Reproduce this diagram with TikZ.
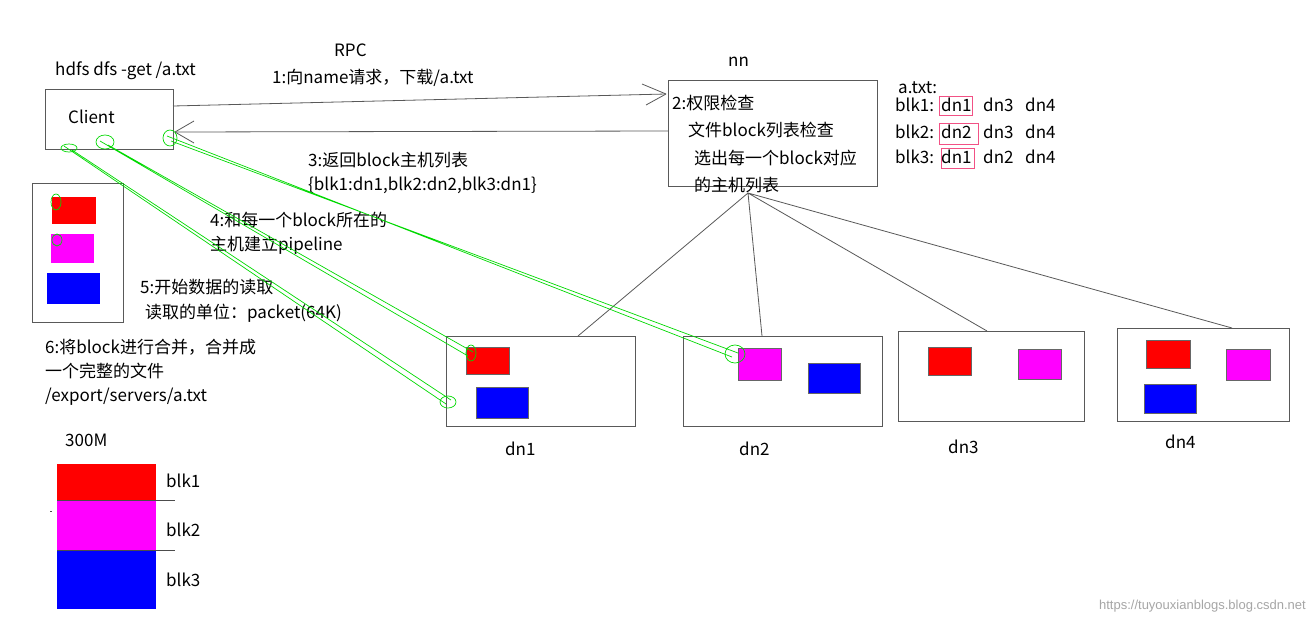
\documentclass[tikz,border=0pt]{standalone}
\usepackage{fontspec}
\setmainfont{Liberation Sans}
\newfontfamily\cjk{Noto Sans CJK SC}
\definecolor{mag}{RGB}{255,0,255}
\definecolor{rd}{RGB}{255,0,0}
\definecolor{bl}{RGB}{0,0,255}
\begin{document}
\begin{tikzpicture}[x=1pt,y=-1pt,
  box/.style={draw=black!65,line width=1pt},
  t/.style={font=\cjk\fontsize{17}{19}\selectfont,inner sep=0pt,anchor=west},
  g/.style={draw=green!85!black,line width=0.7pt},
  arr/.style={draw=black!65,line width=0.8pt},
  blk/.style={draw=black!60,line width=0.5pt}]
\useasboundingbox (0,0) rectangle (1314,624);
\fill[white] (0,0) rectangle (1314,624);
% client
\draw[box] (45,89) rectangle (173,149);
\node[t] (client) at (68,117) {Client};
\node[t] at (55,71) {hdfs dfs -get /a.txt};
\node[t] at (334,50) {RPC};
\node[t] at (272,78) {1:向name请求，下载/a.txt};
% nn
\draw[box] (668,80) rectangle (877,186);
\node[t] at (728,62) {nn};
\node[t] at (672,103) {2:权限检查};
\node[t] at (688,130) {文件block列表检查};
\node[t] at (694,158) {选出每一个block对应};
\node[t] at (694,185) {的主机列表};
\coordinate (c1) at (173,106); \coordinate (n1) at (666,94);
\coordinate (c3) at (175,132); \coordinate (n3) at (668,131);
\draw[arr] (c1) -- (n1);
\draw[arr] (n1) -- ++(-24,-10) (n1) -- ++(-20,11);
\draw[arr] (n3) -- (c3);
\draw[arr] (c3) -- ++(19,-11) (c3) -- ++(19,11);
% a.txt table
\node[t] at (898,88) {a.txt:};
\foreach \y/\b/\p/\q/\r in {105/blk1/dn1/dn3/dn4,132/blk2/dn2/dn3/dn4,157/blk3/dn1/dn2/dn4}{
  \node[t] at (895,\y) {\b:};
  \node[t] at (941,\y) {\p};
  \node[t] at (983,\y) {\q};
  \node[t] at (1025,\y) {\r};
}
\draw[draw=magenta!60!red!70,line width=0.9pt] (939,96) rectangle (972,115) (939,123) rectangle (978,144) (941,148) rectangle (974,168);
% labels
\node[t] at (308,160) {3:返回block主机列表};
\node[t] at (308,185) {\{blk1:dn1,blk2:dn2,blk3:dn1\}};
\node[t] at (210,220) {4:和每一个block所在的};
\node[t] at (210,245) {主机建立pipeline};
\node[t] at (140,287) {5:开始数据的读取};
\node[t] at (145,313) {读取的单位：packet(64K)};
\node[t] at (45,347) {6:将block进行合并，合并成};
\node[t] at (45,371) {一个完整的文件};
\node[t] at (45,397) {/export/servers/a.txt};
% local box
\draw[box] (32,183) rectangle (123,322);
\fill[rd] (52,197) rectangle (96,224);
\fill[mag] (51,234) rectangle (94,263);
\fill[bl] (47,273) rectangle (100,304);
% datanodes
\draw[box] (446,336) rectangle (635,426);
\draw[blk,fill=rd] (466,347) rectangle (509,374);
\draw[blk,fill=bl] (476,387) rectangle (528,418);
\node[t] at (505,449) {dn1};
\draw[box] (683,336) rectangle (882,426);
\draw[blk,fill=mag] (738,348) rectangle (781,380);
\draw[blk,fill=bl] (808,363) rectangle (860,393);
\node[t] at (739,449) {dn2};
\draw[box] (898,331) rectangle (1084,421);
\draw[blk,fill=rd] (928,347) rectangle (971,375);
\draw[blk,fill=mag] (1018,349) rectangle (1061,379);
\node[t] at (948,447) {dn3};
\draw[box] (1117,328) rectangle (1289,421);
\draw[blk,fill=rd] (1146,340) rectangle (1190,368);
\draw[blk,fill=mag] (1226,349) rectangle (1270,380);
\draw[blk,fill=bl] (1144,384) rectangle (1196,413);
\node[t] at (1165,442) {dn4};
% nn -> dn lines
\coordinate (nb) at (748,193);
\draw[arr] (nb) -- (578,336) (nb) -- (762,336) (nb) -- (987,331) (nb) -- (1232,328);
% green pipelines
\draw[g] (64,146) -- (446,404) (72,150) -- (451,400);
\draw[g] (100,141) -- (468,356) (108,145) -- (473,352);
\draw[g] (167,136) -- (732,357) (171,141) -- (738,353);
\draw[g] (69,148) ellipse (8 and 4);
\draw[g] (105,142) ellipse (9 and 7);
\draw[g] (170,138) ellipse (7 and 8);
\draw[g] (448,402) ellipse (8 and 6);
\draw[g] (471,353) ellipse (5 and 8);
\draw[g] (735,354) ellipse (10 and 9);
\draw[g] (56,202) ellipse (5 and 8);
\draw[g] (57,240) ellipse (5 and 6);
% 300M stack
\node[t] at (65,440) {300M};
\fill[rd] (57,464) rectangle (156,500);
\fill[mag] (57,500) rectangle (156,550);
\fill[bl] (57,550) rectangle (156,609);
\draw[black!70,line width=0.5pt] (50,511) -- (52,511) (57,500) -- (175,500) (57,550) -- (175,550);
\node[t] at (166,481) {blk1};
\node[t] at (166,530) {blk2};
\node[t] at (166,580) {blk3};
\node[anchor=east,inner sep=0pt,text=black!35,font=\fontsize{13}{15}\selectfont] at (1306,606) {https://tuyouxianblogs.blog.csdn.net};
\end{tikzpicture}
\end{document}
